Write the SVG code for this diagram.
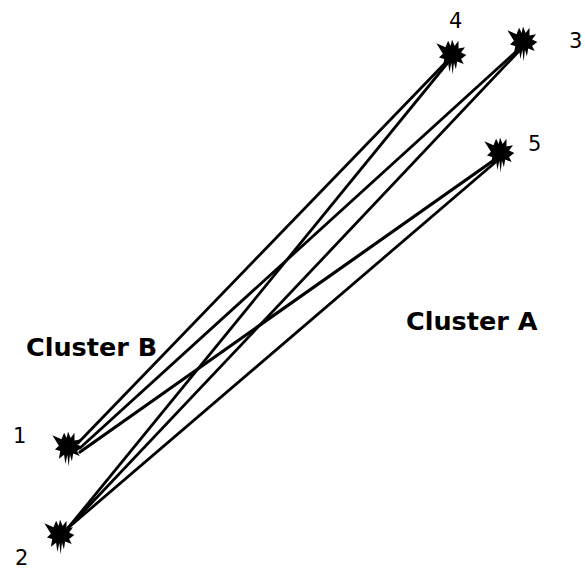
<svg xmlns="http://www.w3.org/2000/svg" xmlns:xlink="http://www.w3.org/1999/xlink" width="585" height="570" viewBox="0 0 585 570">
<style>
.edge{stroke:#000;stroke-width:2.8;fill:none;stroke-linecap:round}
.num{font-family:"DejaVu Sans",Verdana,sans-serif;font-size:21px;fill:#000}
.cl{font-family:"DejaVu Sans",Verdana,sans-serif;font-weight:bold;font-size:25.5px;fill:#000}
</style>
<defs>
<path id="star" d="M0,-12 L2,-7 L5,-11 L5,-5 L10,-6 L7,-2 L11,0 L7,3 L9,7 L4,5 L3,11 L1.5,6 L0.5,15 L-0.5,6 L-2,13 L-3,6 L-7,9 L-6,3 L-10,2 L-7,-1 L-12,-9 L-5,-6 L-3,-11 L-1,-7 Z" fill="#000" transform="scale(1.3)"/>
</defs>
<rect width="585" height="570" fill="#fff"/>
<g id="connectors">
<line class="edge" x1="78" y1="443" x2="450" y2="58"/>
<line class="edge" x1="80" y1="448" x2="520" y2="48"/>
<line class="edge" x1="80" y1="452" x2="497" y2="158" style="stroke-width:3.2"/>
<line class="edge" x1="68" y1="528" x2="450" y2="60"/>
<line class="edge" x1="68" y1="528" x2="520" y2="50"/>
<line class="edge" x1="68" y1="528" x2="498" y2="160"/>
</g>
<g id="node1"><use xlink:href="#star" x="68" y="447"/><text class="num" x="13" y="443">1</text></g>
<g id="node2"><use xlink:href="#star" x="60" y="535"/><text class="num" x="15" y="565">2</text></g>
<g id="node3"><use xlink:href="#star" x="523" y="42"/><text class="num" x="569" y="48">3</text></g>
<g id="node4"><use xlink:href="#star" x="452" y="55"/><text class="num" x="449" y="28">4</text></g>
<g id="node5"><use xlink:href="#star" x="500" y="153"/><text class="num" x="528" y="151">5</text></g>
<g id="clusterA"><text class="cl" x="406" y="330">Cluster A</text></g>
<g id="clusterB"><text class="cl" x="26" y="356">Cluster B</text></g>
</svg>
